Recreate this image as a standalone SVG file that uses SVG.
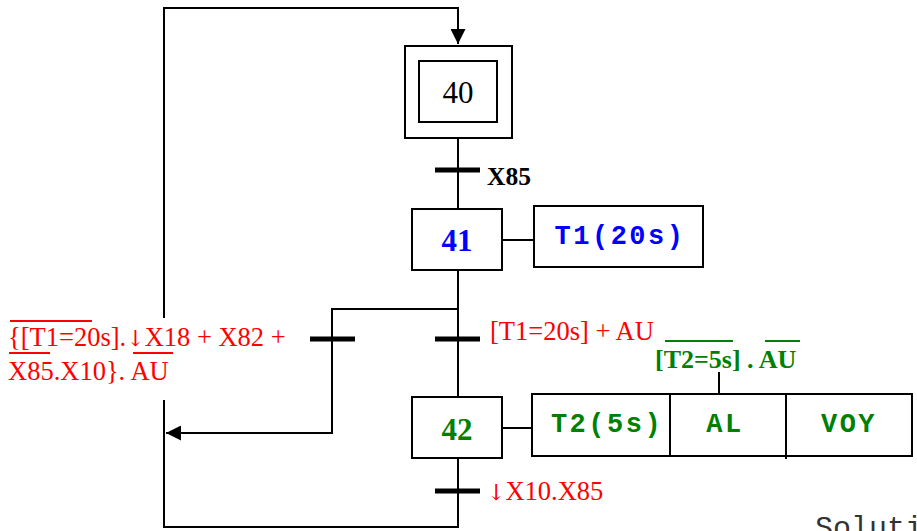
<svg xmlns="http://www.w3.org/2000/svg" width="917" height="531" viewBox="0 0 917 531">
<style>
.ln{stroke:#000;stroke-width:2;fill:none}
.bar{stroke:#000;stroke-width:5;fill:none}
.box{stroke:#000;stroke-width:2;fill:#fff}
.tr{font-family:"Liberation Serif","Times New Roman",serif}
.mono{font-family:"Liberation Mono","Courier New",monospace;font-weight:bold}
.red{fill:#ff0000;font-size:26.5px}
.arr{font-family:"DejaVu Serif","DejaVu Sans",serif;font-size:22px}
.ovr{stroke:#ff0000;stroke-width:2}
.ovg{stroke:#008000;stroke-width:2}
</style>
<defs>
<marker id="ah" markerWidth="16" markerHeight="15" refX="15" refY="7.5" orient="auto" markerUnits="userSpaceOnUse">
<path d="M0,0 L15,7.5 L0,15 Z" fill="#000"/>
</marker>
</defs>
<rect width="917" height="531" fill="#fff"/>
<g id="connectors">
<path class="ln" d="M164,318 V8 H458 V44" marker-end="url(#ah)"/>
<path class="ln" d="M458,138 V209"/>
<path class="ln" d="M458,270 V397"/>
<path class="ln" d="M458,458 V527 H164 V400"/>
<path class="ln" d="M458,309 H332 V433 H166" marker-end="url(#ah)"/>
<path class="ln" d="M502,240 H534"/>
<path class="ln" d="M502,428 H532"/>
<path class="ln" d="M719,372 V395"/>
</g>
<g id="transitions">
<line class="bar" x1="435" y1="170" x2="480" y2="170"/>
<line class="bar" x1="435" y1="339" x2="480" y2="339"/>
<line class="bar" x1="310" y1="339" x2="355" y2="339"/>
<line class="bar" x1="435" y1="491" x2="480" y2="491"/>
<text class="tr" x="487" y="185" font-size="25.5" font-weight="bold" fill="#000">X85</text>
<text class="tr red" x="490" y="340">[T1=20s] + AU</text>
<g id="cond-green">
<text class="tr" x="655" y="368" font-size="26" font-weight="bold" fill="#008000">[T2=5s] . AU</text>
<line class="ovg" x1="665" y1="341" x2="733" y2="341"/>
<line class="ovg" x1="765" y1="341" x2="800" y2="341"/>
</g>
<g id="cond-left">
<text class="tr red" x="8" y="346">{[T1=20s].<tspan class="arr">↓</tspan>X18 + X82 +</text>
<text class="tr red" x="8" y="380">X85.X10}. AU</text>
<line class="ovr" x1="10" y1="321" x2="92" y2="321"/>
<line class="ovr" x1="9" y1="353" x2="50" y2="353"/>
<line class="ovr" x1="133" y1="353" x2="173" y2="353"/>
</g>
<text class="tr red" x="487" y="500"><tspan class="arr">↓</tspan>X10.X85</text>
</g>
<g id="step40">
<rect class="box" x="405" y="46" width="107" height="92"/>
<rect class="box" x="419" y="61" width="78" height="61"/>
<text class="tr" x="458" y="103" font-size="31" text-anchor="middle">40</text>
</g>
<g id="step41">
<rect class="box" x="412" y="209" width="90" height="61"/>
<text class="tr" x="457" y="251" font-size="31" font-weight="bold" fill="#0000ff" text-anchor="middle">41</text>
</g>
<g id="action41">
<rect class="box" x="534" y="206" width="169" height="61"/>
<text class="mono" x="620" y="244" font-size="27" fill="#0000ff" text-anchor="middle" letter-spacing="2.5">T1(20s)</text>
</g>
<g id="step42">
<rect class="box" x="412" y="397" width="90" height="61"/>
<text class="tr" x="457" y="440" font-size="31" font-weight="bold" fill="#008000" text-anchor="middle">42</text>
</g>
<g id="action42">
<rect class="box" x="532" y="394" width="380" height="62"/>
<line class="ln" x1="670" y1="394" x2="670" y2="456"/>
<line class="ln" x1="786" y1="394" x2="786" y2="459"/>
<text class="mono" x="607" y="432" font-size="27" fill="#008000" text-anchor="middle" letter-spacing="2.5">T2(5s)</text>
<text class="mono" x="725" y="432" font-size="27" fill="#008000" text-anchor="middle" letter-spacing="2.5">AL</text>
<text class="mono" x="849" y="432" font-size="27" fill="#008000" text-anchor="middle" letter-spacing="2.5">VOY</text>
</g>
<text x="815" y="537" font-family="'Liberation Mono','Courier New',monospace" font-size="30" fill="#333">Soluti</text>
</svg>
